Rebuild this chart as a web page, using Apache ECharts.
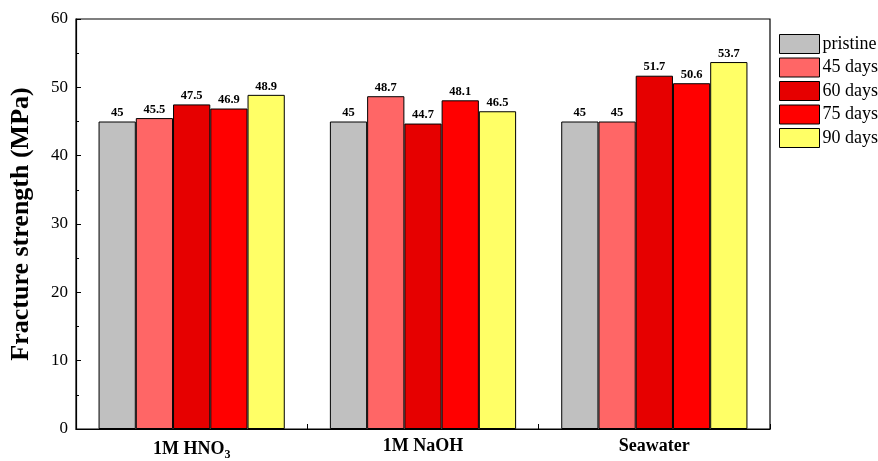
<!DOCTYPE html>
<html><head><meta charset="utf-8">
<script src="https://cdn.jsdelivr.net/npm/echarts@6/dist/echarts.min.js"></script>
<style>html,body{margin:0;padding:0;background:#fff;overflow:hidden}#c{width:878px;height:461px}</style>
</head><body><div id="c"></div>
<script>
const categories = ['1M HNO3', '1M NaOH', 'Seawater'];
const seriesNames = ['pristine', '45 days', '60 days', '75 days', '90 days'];
const pristine = [45, 45, 45];
const days45 = [45.5, 48.7, 45];
const days60 = [47.5, 44.7, 51.7];
const days75 = [46.9, 48.1, 50.6];
const days90 = [48.9, 46.5, 53.7];
const yTicks = [0, 10, 20, 30, 40, 50, 60];
const colors = ['#C0C0C0', '#FF6666', '#E60000', '#FF0000', '#FFFF66'];

const F = '"Liberation Serif", "Times New Roman", serif';
const chart = echarts.init(document.getElementById('c'));
const data = [pristine, days45, days60, days75, days90];
chart.setOption({
  animation: false,
  grid: {left: 73, right: 108, top: 19, bottom: 29, show: true, borderColor: '#000', borderWidth: 1.2, backgroundColor: 'transparent'},
  legend: {
    orient: 'vertical', left: 774, top: 29, itemWidth: 40, itemHeight: 19, itemGap: 3.5, icon: 'rect',
    textStyle: {fontFamily: F, fontSize: 18, color: '#000', padding: [0,0,0,-2]},
    data: seriesNames.map((n, i) => ({name: n, itemStyle: {color: colors[i], borderColor: '#000', borderWidth: 1}}))
  },
  xAxis: [{
    type: 'category', data: categories,
    axisLine: {lineStyle: {color: '#000', width: 1.2}},
    axisTick: {show: true, inside: true, alignWithLabel: false, length: 5, lineStyle: {color: '#000'}},
    axisLabel: {
      margin: 8, fontFamily: F, fontSize: 18, fontWeight: 'bold', color: '#000',
      formatter: v => v === '1M HNO3' ? '{a|1M HNO}{s|3}' : '{a|' + v + '}',
      rich: {a: {fontFamily: F, fontSize: 18, fontWeight: 'bold', color: '#000'},
             s: {fontFamily: F, fontSize: 12, fontWeight: 'bold', color: '#000', padding: [12, 0, 0, 0]}}
    }
  }, {
    type: 'category', data: categories, position: 'bottom',
    axisLine: {show: false},
    axisTick: {show: true, inside: true, alignWithLabel: true, length: 5, lineStyle: {color: '#000'}},
    axisLabel: {show: false}
  }],
  yAxis: {
    type: 'value', min: 0, max: 60, interval: 10,
    name: 'Fracture strength (MPa)', nameLocation: 'middle', nameGap: 42,
    nameTextStyle: {fontFamily: F, fontSize: 26, fontWeight: 'bold', color: '#000'},
    axisLine: {show: true, lineStyle: {color: '#000', width: 1.2}},
    axisTick: {show: true, inside: true, length: 5, lineStyle: {color: '#000'}},
    minorTick: {show: true, splitNumber: 2, length: 3, lineStyle: {color: '#000'}},
    splitLine: {show: false},
    axisLabel: {margin: 8, fontFamily: F, fontSize: 17, color: '#000',
      formatter: v => yTicks.includes(v) ? String(v) : ''}
  },
  series: seriesNames.map((n, i) => ({
    name: n, type: 'bar', data: data[i], barGap: '0%', barCategoryGap: '19.5%',
    itemStyle: {color: colors[i], borderColor: '#000', borderWidth: 1},
    label: {show: true, position: 'top', distance: 2, fontFamily: F, fontSize: 12.5, fontWeight: 'bold', color: '#000'}
  }))
});
</script></body></html>
